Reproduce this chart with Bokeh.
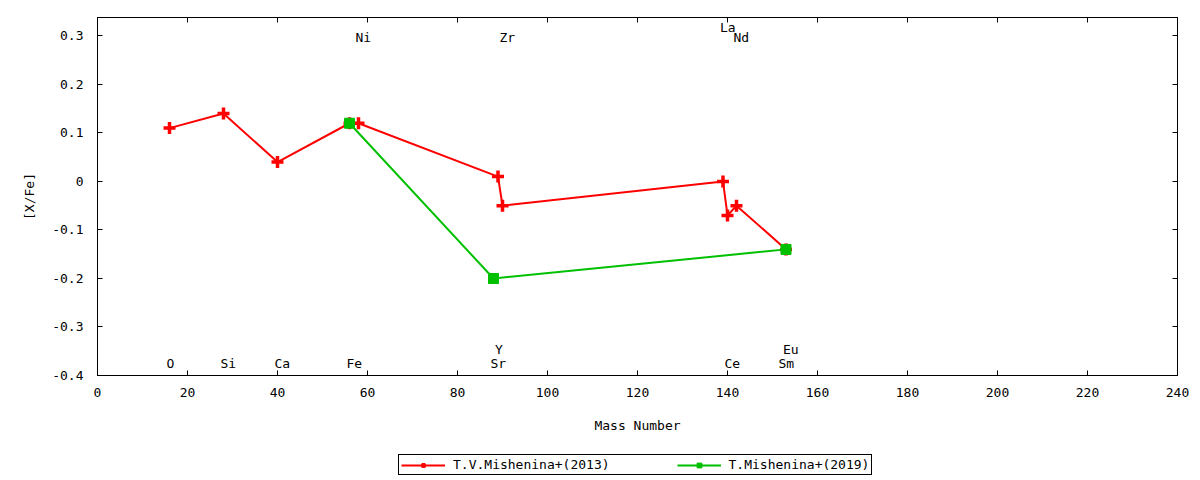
from bokeh.plotting import figure
from bokeh.layouts import column
from bokeh.models import (ColumnDataSource, Range1d, LinearAxis, FixedTicker, Legend,
                          LegendItem, CustomLabelingPolicy)
from bokeh.core.properties import value
from bokeh.embed import file_html
from bokeh.resources import INLINE

FONT = "DejaVu Sans Mono"
FS = "13px"

# ---- data ----
mass_2013 = [16, 28, 40, 56, 58, 89, 90, 139, 140, 142, 153]
xfe_2013 = [0.11, 0.14, 0.04, 0.12, 0.12, 0.01, -0.05, 0.00, -0.07, -0.05, -0.14]

mass_2019 = [56, 88, 153]
xfe_2019 = [0.12, -0.20, -0.14]

series_names = ["T.V.Mishenina+(2013)", "T.Mishenina+(2019)"]

label_names = ["O", "Si", "Ca", "Fe", "Ni", "Sr", "Y", "Zr", "La", "Ce", "Nd", "Sm", "Eu"]
label_mass = [16, 28, 40, 56, 58, 88, 89, 90, 139, 140, 142, 152, 153]
label_level = [-0.375, -0.375, -0.375, -0.375, 0.297, -0.375, -0.346, 0.297,
               0.318, -0.375, 0.297, -0.375, -0.346]

x_ticks = [0, 20, 40, 60, 80, 100, 120, 140, 160, 180, 200, 220, 240]
y_ticks = [-0.4, -0.3, -0.2, -0.1, 0, 0.1, 0.2, 0.3]
y_tick_labels = ["-0.4", "-0.3", "-0.2", "-0.1", "0", "0.1", "0.2", "0.3"]

RED = "#ff0000"
GREEN = "#00c000"

X_RANGE = (0, 240)
Y_RANGE = (-0.4, 0.338)

p = figure(frame_width=1080, frame_height=358,
           x_range=Range1d(*X_RANGE), y_range=Range1d(*Y_RANGE),
           output_backend="svg", toolbar_location=None,
           min_border_left=97, min_border_right=23, min_border_top=17, min_border_bottom=65)

p.grid.visible = False
p.outline_line_color = "black"
p.outline_line_width = 1
p.background_fill_color = "white"
p.border_fill_color = "white"


def style(ax, labels=True):
    ax.major_tick_in = 5
    ax.major_tick_out = 0
    ax.minor_tick_line_color = None
    ax.axis_line_color = "black"
    ax.major_tick_line_color = "black"
    ax.major_label_text_font = FONT
    ax.major_label_text_color = "black"
    ax.axis_label_text_font = FONT
    ax.axis_label_text_font_size = FS
    ax.axis_label_text_font_style = "normal"
    ax.axis_label_text_color = "black"
    if labels:
        ax.major_label_text_font_size = FS
    else:
        ax.major_label_text_font_size = "1px"
        ax.major_label_standoff = 0
        ax.major_label_policy = CustomLabelingPolicy(
            code="for (const i of indices) indices.unset(i); return indices")


p.xaxis.ticker = FixedTicker(ticks=x_ticks)
p.yaxis.ticker = FixedTicker(ticks=y_ticks)
p.yaxis.major_label_overrides = dict(zip(y_ticks, y_tick_labels))
for ax in p.xaxis + p.yaxis:
    style(ax)
p.xaxis.axis_label = "Mass Number"
p.yaxis.axis_label = "[X/Fe]"
p.xaxis.major_label_standoff = 12
p.xaxis.axis_label_standoff = 18
p.yaxis.major_label_standoff = 14
p.yaxis.axis_label_standoff = 12

top = LinearAxis(ticker=FixedTicker(ticks=x_ticks))
style(top, labels=False)
p.add_layout(top, "above")
right = LinearAxis(ticker=FixedTicker(ticks=y_ticks))
style(right, labels=False)
p.add_layout(right, "right")

src13 = ColumnDataSource(dict(x=mass_2013, y=xfe_2013))
src19 = ColumnDataSource(dict(x=mass_2019, y=xfe_2019))


def draw(fig):
    a = fig.line("x", "y", source=src13, line_color=RED, line_width=2)
    b = fig.scatter("x", "y", source=src13, marker="cross", size=12, line_color=RED, line_width=3.5)
    c = fig.line("x", "y", source=src19, line_color=GREEN, line_width=2)
    d = fig.scatter("x", "y", source=src19, marker="square", size=10, line_color=GREEN, fill_color=GREEN)
    return a, b, c, d


draw(p)

lab = ColumnDataSource(dict(x=label_mass, y=label_level, t=label_names))
p.text("x", "y", text="t", source=lab, text_font=value(FONT), text_font_size=FS,
       text_align="left", text_baseline="middle", x_offset=-3, text_color="black")

# ---- legend strip below the plot ----
lg = figure(width=1200, height=40, x_range=Range1d(*X_RANGE), y_range=Range1d(10, 11),
            output_backend="svg", toolbar_location=None,
            x_axis_location=None, y_axis_location=None,
            min_border_left=0, min_border_right=0, min_border_top=0, min_border_bottom=0)
lg.grid.visible = False
lg.outline_line_color = None
lg.background_fill_color = "white"
lg.border_fill_color = "white"
r1l, r1s, r2l, r2s = draw(lg)

legend = Legend(items=[LegendItem(label=series_names[0], renderers=[r1l, r1s]),
                       LegendItem(label=series_names[1], renderers=[r2l, r2s])],
                orientation="horizontal", location=(301, 5),
                border_line_color="black", border_line_width=1, border_line_alpha=1,
                background_fill_color="white", background_fill_alpha=1,
                label_text_font=FONT, label_text_font_size=FS, label_text_color="black",
                glyph_width=44, glyph_height=12, label_height=12,
                padding=2, spacing=67, label_standoff=8, margin=0)
lg.add_layout(legend, "center")

layout = column(p, lg, spacing=0)
open("out.html", "w").write(file_html(layout, INLINE))
